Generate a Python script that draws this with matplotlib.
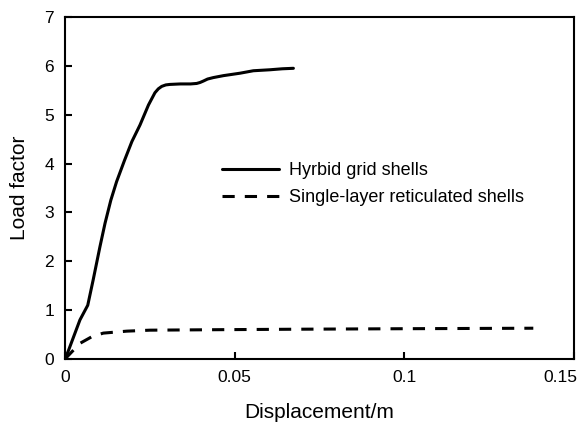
import matplotlib
matplotlib.use("Agg")
import matplotlib.pyplot as plt
import matplotlib.transforms as mtransforms

plt.rcParams['font.family'] = ['Liberation Sans', 'DejaVu Sans']

# Hybrid grid shells (solid)
hybrid_x = [0.0, 0.0010, 0.0044, 0.0067, 0.0083, 0.0103, 0.0118, 0.0135, 0.0152,
            0.0175, 0.0197, 0.0221, 0.0246, 0.0265, 0.0275, 0.0285, 0.0297,
            0.0309, 0.0340, 0.0370, 0.0388, 0.0398, 0.0408, 0.0420, 0.0437,
            0.0467, 0.0516, 0.0555, 0.0604, 0.0640, 0.0673]
hybrid_y = [0.0, 0.17, 0.80, 1.10, 1.62, 2.30, 2.78, 3.25, 3.63,
            4.06, 4.45, 4.79, 5.20, 5.45, 5.53, 5.58, 5.61,
            5.62, 5.63, 5.63, 5.64, 5.66, 5.69, 5.73, 5.76,
            5.80, 5.85, 5.90, 5.92, 5.94, 5.95]

# Single-layer reticulated shells (dashed)
single_x = [0.0, 0.0044, 0.0080, 0.0113, 0.0182, 0.0250, 0.0450, 0.0693, 0.1000, 0.1380]
single_y = [0.0, 0.32, 0.46, 0.53, 0.57, 0.59, 0.60, 0.61, 0.62, 0.63]

x_ticks = [0, 0.05, 0.1, 0.15]
x_ticklabels = ['0', '0.05', '0.1', '0.15']
y_ticks = [0, 1, 2, 3, 4, 5, 6, 7]

fig = plt.figure(figsize=(5.82, 4.23), dpi=100)
ax = fig.add_axes([0.1117, 0.1513, 0.8746, 0.8085])

ax.plot(hybrid_x, hybrid_y, color='black', lw=2.2, solid_capstyle='round',
        solid_joinstyle='round', label='Hyrbid grid shells')
ax.plot(single_x, single_y, color='black', lw=2.2, dashes=(4, 3.3),
        label='Single-layer reticulated shells')

ax.set_xlim(0, 0.15)
ax.set_ylim(0, 7)
ax.set_xticks(x_ticks)
ax.set_xticklabels(x_ticklabels)
ax.set_yticks(y_ticks)
ax.tick_params(direction='in', length=5, width=1.5, labelsize=12.5, pad=8)
for s in ax.spines.values():
    s.set_linewidth(1.5)

# keep last x tick label inside the figure
last = ax.get_xticklabels()[-1]
last.set_horizontalalignment('right')
last.set_transform(last.get_transform() +
                   mtransforms.ScaledTranslation(3 / 100, 0, fig.dpi_scale_trans))

ax.set_xlabel('Displacement/m', fontsize=15, labelpad=13)
ax.set_ylabel('Load factor', fontsize=15, labelpad=11)

ax.legend(loc='upper left', bbox_to_anchor=(0.308, 0.575), frameon=False,
          fontsize=13, handlelength=3.15, handletextpad=0.55,
          labelspacing=0.55, borderpad=0, borderaxespad=0)

fig.savefig('out.png', dpi=100)
